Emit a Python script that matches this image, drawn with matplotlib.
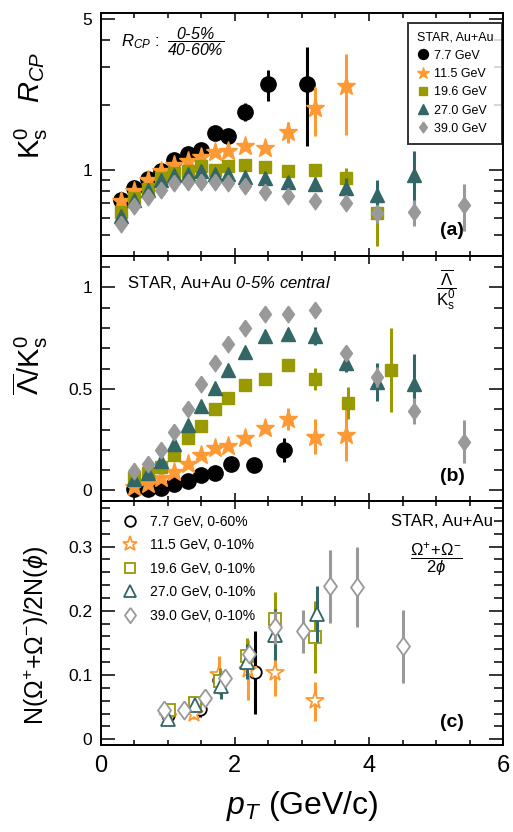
import matplotlib
matplotlib.use("Agg")
import matplotlib.pyplot as plt
from matplotlib.ticker import FixedLocator, NullFormatter, MultipleLocator

plt.rcParams["font.family"] = ["Liberation Sans", "DejaVu Sans"]
plt.rcParams["mathtext.fontset"] = "custom"
plt.rcParams["mathtext.rm"] = "Liberation Sans"
plt.rcParams["mathtext.it"] = "Liberation Sans:italic"
plt.rcParams["mathtext.bf"] = "Liberation Sans:bold"
# sf slot used for italic digits/percent signs in the annotations
plt.rcParams["mathtext.sf"] = "Liberation Sans:italic"

energies = ["7.7 GeV", "11.5 GeV", "19.6 GeV", "27.0 GeV", "39.0 GeV"]
centralities_c = ["0-60%", "0-10%", "0-10%", "0-10%", "0-10%"]
colors = ["black", "#ff9933", "#999900", "#336666", "#999999"]
diamond = [(0, 1), (0.72, 0), (0, -1), (-0.72, 0), (0, 1)]
markers = ["o", "*", "s", "^", diamond]

# (a) K0s R_CP (0-5% / 40-60%)
rcp_pt = [
    [0.3, 0.5, 0.7, 0.9, 1.1, 1.3, 1.5, 1.7, 1.9, 2.15, 2.5, 3.07],
    [0.3, 0.5, 0.7, 0.9, 1.1, 1.3, 1.5, 1.7, 1.9, 2.15, 2.45, 2.8, 3.2, 3.65],
    [0.3, 0.5, 0.7, 0.9, 1.1, 1.3, 1.5, 1.7, 1.9, 2.15, 2.45, 2.8, 3.2, 3.65, 4.12],
    [0.3, 0.5, 0.7, 0.9, 1.1, 1.3, 1.5, 1.7, 1.9, 2.15, 2.45, 2.8, 3.2, 3.65, 4.12, 4.67],
    [0.3, 0.5, 0.7, 0.9, 1.1, 1.3, 1.5, 1.7, 1.9, 2.15, 2.45, 2.8, 3.2, 3.65, 4.12, 4.67, 5.42],
]
rcp_val = [
    [0.73, 0.83, 0.91, 0.99, 1.11, 1.18, 1.24, 1.48, 1.43, 1.86, 2.49, 2.49],
    [0.72, 0.80, 0.90, 0.99, 1.05, 1.10, 1.15, 1.21, 1.22, 1.29, 1.27, 1.50, 1.93, 2.46],
    [0.64, 0.74, 0.82, 0.92, 0.97, 0.985, 1.04, 1.00, 1.04, 1.06, 1.03, 0.99, 1.00, 0.92, 0.63],
    [0.61, 0.73, 0.81, 0.90, 0.95, 0.96, 0.985, 0.96, 0.96, 0.93, 0.92, 0.88, 0.86, 0.83, 0.77, 0.95],
    [0.56, 0.68, 0.75, 0.81, 0.87, 0.88, 0.88, 0.88, 0.87, 0.84, 0.79, 0.76, 0.72, 0.70, 0.63, 0.64, 0.69],
]
rcp_err = [
    [0.06, 0.03, 0.02, 0.02, 0.02, 0.03, 0.03, 0.05, 0.05, 0.18, 0.40, 1.20],
    [0.06, 0.03, 0.02, 0.02, 0.02, 0.02, 0.03, 0.03, 0.03, 0.04, 0.06, 0.17, 0.49, 1.00],
    [0.03, 0.02, 0.02, 0.02, 0.02, 0.02, 0.02, 0.02, 0.02, 0.03, 0.03, 0.04, 0.07, 0.10, 0.185],
    [0.03, 0.02, 0.02, 0.02, 0.02, 0.02, 0.02, 0.02, 0.02, 0.03, 0.03, 0.04, 0.05, 0.09, 0.13, 0.28],
    [0.02, 0.02, 0.02, 0.02, 0.02, 0.02, 0.02, 0.02, 0.02, 0.02, 0.02, 0.03, 0.03, 0.04, 0.06, 0.09, 0.17],
]

# (b) anti-Lambda / K0s, 0-5% central
ratio_pt = [
    [0.5, 0.7, 0.9, 1.1, 1.3, 1.5, 1.7, 1.95, 2.29, 2.74],
    [0.5, 0.7, 0.9, 1.1, 1.3, 1.5, 1.7, 1.9, 2.15, 2.45, 2.8, 3.2, 3.65],
    [0.5, 0.7, 0.9, 1.1, 1.3, 1.5, 1.7, 1.9, 2.15, 2.45, 2.8, 3.2, 3.68, 4.33],
    [0.5, 0.7, 0.9, 1.1, 1.3, 1.5, 1.7, 1.9, 2.15, 2.45, 2.8, 3.2, 3.65, 4.12, 4.67],
    [0.5, 0.7, 0.9, 1.1, 1.3, 1.5, 1.7, 1.9, 2.15, 2.45, 2.8, 3.2, 3.65, 4.12, 4.67, 5.42],
]
ratio_val = [
    [0.005, 0.005, 0.013, 0.030, 0.048, 0.076, 0.084, 0.128, 0.125, 0.199],
    [0.018, 0.034, 0.062, 0.089, 0.128, 0.177, 0.207, 0.220, 0.256, 0.305, 0.351, 0.264, 0.273],
    [0.062, 0.084, 0.117, 0.174, 0.259, 0.319, 0.401, 0.456, 0.519, 0.547, 0.617, 0.548, 0.429, 0.593],
    [0.056, 0.084, 0.145, 0.227, 0.322, 0.415, 0.502, 0.593, 0.683, 0.760, 0.768, 0.760, 0.626, 0.535, 0.522],
    [0.095, 0.128, 0.199, 0.286, 0.401, 0.522, 0.626, 0.719, 0.801, 0.867, 0.867, 0.888, 0.675, 0.560, 0.391, 0.240],
]
ratio_err = [
    [0.003, 0.003, 0.003, 0.004, 0.005, 0.006, 0.008, 0.01, 0.012, 0.06],
    [0.003, 0.004, 0.005, 0.006, 0.007, 0.008, 0.01, 0.012, 0.015, 0.02, 0.053, 0.086, 0.127],
    [0.005, 0.005, 0.006, 0.007, 0.008, 0.01, 0.012, 0.014, 0.016, 0.02, 0.025, 0.053, 0.078, 0.205],
    [0.005, 0.005, 0.006, 0.007, 0.008, 0.01, 0.012, 0.014, 0.016, 0.02, 0.025, 0.045, 0.045, 0.093, 0.15],
    [0.005, 0.005, 0.006, 0.007, 0.008, 0.01, 0.012, 0.014, 0.016, 0.018, 0.02, 0.025, 0.033, 0.05, 0.066, 0.107],
]

# (c) (Omega+ + Omega-) / 2 phi
omphi_pt = [
    [1.0, 1.48, 1.76, 2.3],
    [1.0, 1.39, 1.77, 2.2, 2.6, 3.2],
    [1.02, 1.4, 1.78, 2.18, 2.6, 3.2],
    [1.0, 1.4, 1.8, 2.18, 2.6, 3.22],
    [0.95, 1.25, 1.55, 1.86, 2.21, 2.6, 3.02, 3.42, 3.82, 4.51],
]
omphi_val = [
    [0.037, 0.047, 0.092, 0.104],
    [0.035, 0.040, 0.100, 0.108, 0.103, 0.059],
    [0.046, 0.057, 0.091, 0.129, 0.188, 0.159],
    [0.031, 0.053, 0.083, 0.121, 0.163, 0.195],
    [0.046, 0.046, 0.064, 0.095, 0.132, 0.174, 0.168, 0.238, 0.237, 0.145],
]
omphi_err = [
    [0.004, 0.012, 0.015, 0.065],
    [0.006, 0.008, 0.030, 0.047, 0.036, 0.030],
    [0.004, 0.006, 0.020, 0.028, 0.042, 0.056],
    [0.004, 0.006, 0.020, 0.028, 0.040, 0.044],
    [0.004, 0.004, 0.005, 0.008, 0.012, 0.025, 0.033, 0.057, 0.063, 0.057],
]

filled_size = [11, 14, 9, 10, 12]
open_size = [9, 13, 9, 10, 13]

fig = plt.figure(figsize=(5.13, 8.32), dpi=100)
left, width = 0.196, 0.785
ax_a = fig.add_axes([left, 0.6923, width, 0.2921])
ax_b = fig.add_axes([left, 0.3978, width, 0.2945], sharex=ax_a)
ax_c = fig.add_axes([left, 0.1046, width, 0.2932], sharex=ax_a)


def draw_series(ax, xs, ys, es, filled, sizes):
    handles = []
    for i in range(len(xs)):
        z = 2 + 0.2 * i
        ax.errorbar(xs[i], ys[i], yerr=es[i], fmt="none", ecolor=colors[i],
                    elinewidth=2.2, capsize=0, zorder=z)
        if filled:
            ln, = ax.plot(xs[i], ys[i], ls="none", marker=markers[i],
                          ms=sizes[i], color=colors[i], mec=colors[i], zorder=z + 0.1)
        else:
            ln, = ax.plot(xs[i], ys[i], ls="none", marker=markers[i],
                          ms=sizes[i], mfc="white", mec=colors[i], mew=1.3,
                          zorder=z + 0.1)
        handles.append(ln)
    return handles


h_a = draw_series(ax_a, rcp_pt, rcp_val, rcp_err, True, filled_size)
draw_series(ax_b, ratio_pt, ratio_val, ratio_err, True, filled_size)
h_c = draw_series(ax_c, omphi_pt, omphi_val, omphi_err, False, open_size)

for ax in (ax_a, ax_b, ax_c):
    ax.set_xlim(0, 6)
    ax.xaxis.set_major_locator(MultipleLocator(2))
    ax.xaxis.set_minor_locator(MultipleLocator(0.5))
    ax.tick_params(which="both", direction="in", top=True, right=True, width=1.1)
    ax.tick_params(axis="y", which="major", length=10, labelsize=12.5, pad=6)
    ax.tick_params(axis="y", which="minor", length=6.5)
    ax.tick_params(axis="x", which="major", length=6, labelsize=17, pad=7)
    ax.tick_params(axis="x", which="minor", length=3.5)
    for sp in ax.spines.values():
        sp.set_linewidth(1.4)

ax_a.tick_params(axis="x", labelbottom=False)
ax_b.tick_params(axis="x", labelbottom=False)

# (a)
ax_a.set_yscale("log")
ax_a.set_ylim(0.4, 5.33)
ax_a.yaxis.set_major_locator(FixedLocator([1, 5]))
ax_a.set_yticklabels(["1", "5"])
ax_a.yaxis.set_minor_locator(FixedLocator([0.5, 0.6, 0.7, 0.8, 0.9, 2, 3, 4]))
ax_a.yaxis.set_minor_formatter(NullFormatter())
ax_a.set_ylabel(r"K$^{0}_{\mathrm{s}}$  $\ R_{CP}$", fontsize=21)
ax_a.yaxis.set_label_coords(-0.125, 0.62)
ax_a.text(0.05, 0.88, r"$R_{CP}$ :", transform=ax_a.transAxes,
          fontsize=12, va="center", ha="left")
ax_a.text(0.237, 0.882, r"$\dfrac{\mathsf{0‐5\%}}{\mathsf{40‐60\%}}$",
          transform=ax_a.transAxes, fontsize=11.5, va="center", ha="center")
leg = ax_a.legend(h_a, energies, title="STAR, Au+Au", loc="upper right",
                  bbox_to_anchor=(1.012, 0.985), fontsize=9, title_fontsize=9,
                  frameon=True, fancybox=False, edgecolor="black",
                  markerscale=0.65, handlelength=1.0, handletextpad=0.4,
                  labelspacing=0.5, borderpad=0.7)
leg.get_frame().set_linewidth(1.4)
leg._legend_box.align = "left"
ax_a.text(0.873, 0.107, "(a)", transform=ax_a.transAxes, fontsize=14,
          fontweight="bold", ha="center", va="center")

# (b)
ax_b.set_ylim(-0.052, 1.154)
ax_b.yaxis.set_major_locator(FixedLocator([0, 0.5, 1]))
ax_b.set_yticklabels(["0", "0.5", "1"])
ax_b.yaxis.set_minor_locator(MultipleLocator(0.1))
ax_b.set_ylabel(r"$\overline{\Lambda}$/K$^{0}_{\mathrm{s}}$", fontsize=21)
ax_b.yaxis.set_label_coords(-0.125, 0.555)
ax_b.text(0.065, 0.889, r"STAR, Au+Au $\mathsf{0‐5\%\ central}$",
          transform=ax_b.transAxes, fontsize=12, va="center", ha="left")
ax_b.text(0.858, 0.861, r"$\dfrac{\overline{\Lambda}}{\mathrm{K}^{0}_{\mathrm{s}}}$",
          transform=ax_b.transAxes, fontsize=12, va="center", ha="center")
ax_b.text(0.873, 0.099, "(b)", transform=ax_b.transAxes, fontsize=14,
          fontweight="bold", ha="center", va="center")

# (c)
ax_c.set_ylim(-0.009, 0.371)
ax_c.yaxis.set_minor_locator(MultipleLocator(0.02))
ax_c.set_yticks([0, 0.1, 0.2, 0.3])
ax_c.set_yticklabels(["0", "0.1", "0.2", "0.3"])
ax_c.set_ylabel(r"N($\Omega^{+}$+$\Omega^{-}$)/2N($\phi$)", fontsize=18)
ax_c.yaxis.set_label_coords(-0.122, 0.447)
ax_c.set_xticks([0, 2, 4, 6])
ax_c.set_xlabel(r"$p_{T}$ (GeV/c)", fontsize=23, labelpad=9)
ax_c.legend(h_c, [f"{e}, {c}" for e, c in zip(energies, centralities_c)],
            loc="upper left", bbox_to_anchor=(0.022, 0.995), fontsize=10,
            frameon=False, markerscale=0.85, handlelength=1.2,
            handletextpad=0.8, labelspacing=0.68)
ax_c.text(0.974, 0.915, "STAR, Au+Au", transform=ax_c.transAxes,
          fontsize=12, va="center", ha="right")
ax_c.text(0.833, 0.758, r"$\dfrac{\Omega^{+}\!+\!\Omega^{-}}{2\phi}$",
          transform=ax_c.transAxes, fontsize=12, va="center", ha="center")
ax_c.text(0.873, 0.094, "(c)", transform=ax_c.transAxes, fontsize=14,
          fontweight="bold", ha="center", va="center")

fig.savefig("out.png", dpi=100)
